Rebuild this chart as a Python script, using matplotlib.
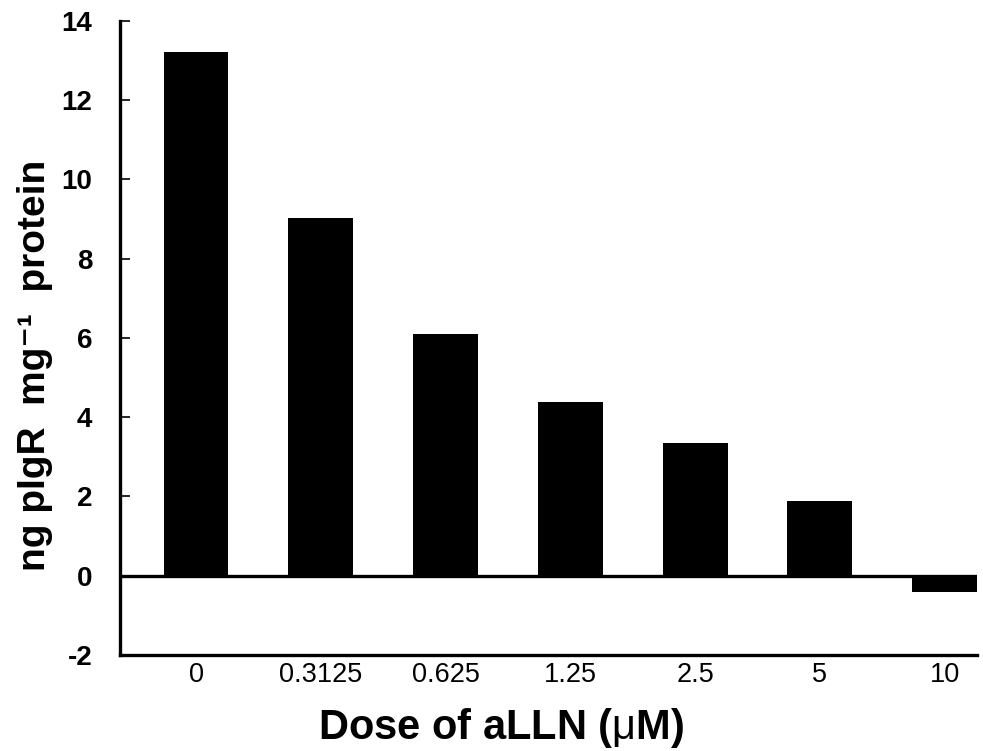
import numpy as np
import matplotlib.pyplot as plt

plt.rcParams['font.family'] = ['Liberation Sans', 'DejaVu Sans']
plt.rcParams['mathtext.fontset'] = 'custom'
plt.rcParams['mathtext.rm'] = 'Liberation Sans'
plt.rcParams['mathtext.bf'] = 'Liberation Sans:bold'

# data
doses = ['0', '0.3125', '0.625', '1.25', '2.5', '5', '10']
pigr = [13.22, 9.04, 6.09, 4.38, 3.35, 1.89, -0.42]
y_ticks = [-2, 0, 2, 4, 6, 8, 10, 12, 14]

fig = plt.figure(figsize=(9.83, 7.51), dpi=100)
ax = fig.add_axes([0.122, 0.128, 0.872, 0.844])

x = np.arange(len(doses))
ax.bar(x, pigr, width=0.52, color='black')
ax.axhline(0, color='black', linewidth=2.4)

ax.set_xlim(-0.61, 6.26)
ax.set_ylim(-2, 14)
ax.set_yticks(y_ticks)
ax.set_yticklabels([str(t) for t in y_ticks], fontsize=20, fontweight='bold')
ax.set_xticks(x)
ax.set_xticklabels(doses, fontsize=19.5)

ax.tick_params(axis='y', direction='in', length=7, width=1.2, pad=20)
ax.tick_params(axis='x', length=0, pad=5)

for s in ['top', 'right']:
    ax.spines[s].set_visible(False)
for s in ['left', 'bottom']:
    ax.spines[s].set_linewidth(2.4)

ax.set_xlabel(r'Dose of aLLN ($\mathrm{\mu}$M)', fontsize=30, fontweight='bold', labelpad=13)
ax.xaxis.label.set_x(0.445)
ax.set_ylabel('ng pIgR  mg\u207b\u00b9  protein', fontsize=28, fontweight='bold', labelpad=6)
ax.yaxis.label.set_y(0.457)

fig.savefig('out.png', dpi=100)
